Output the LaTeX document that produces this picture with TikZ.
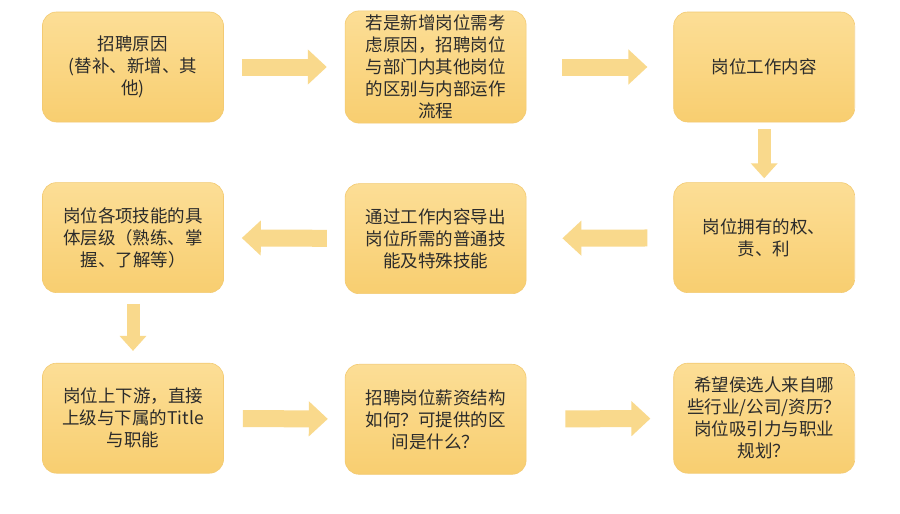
\documentclass[tikz,border=0pt]{standalone}
\usepackage{fontspec}
\setmainfont{Noto Sans CJK SC}
\usepackage{xcolor}
\usetikzlibrary{arrows.meta, positioning}
\definecolor{boxtop}{HTML}{FCDE96}
\definecolor{boxbot}{HTML}{F8CE70}
\definecolor{boxline}{HTML}{F3CA72}
\definecolor{arrowfill}{HTML}{F9D98C}
\definecolor{ink}{HTML}{2B2B2B}
\tikzset{
  stage/.style={draw=boxline, line width=0.6pt, rounded corners=14pt, top color=boxtop, bottom color=boxbot, align=center, minimum width=181pt, minimum height=110pt, inner sep=4pt, text=ink},
  flow/.style={arrowfill, line width=17pt, -{Triangle[length=19pt, width=34pt]}},
  drop/.style={arrowfill, line width=13pt, -{Triangle[length=15pt, width=26pt]}},
  every node/.style={font=\fontsize{17.5}{22}\selectfont}
}
\begin{document}
\begin{tikzpicture}
    \fill[white] (0,0) rectangle (900pt,-514pt);
    \useasboundingbox (0,0) rectangle (900pt,-514pt);
    \node[stage] (recruit) at (133pt,-67pt) {招聘原因\\(替补、新增、其\\他)};
    \node[stage, right=121pt of recruit] (compare) {若是新增岗位需考\\虑原因，招聘岗位\\与部门内其他岗位\\的区别与内部运作\\流程};
    \node[stage, right=147pt of compare] (content) {岗位工作内容};
    \node[stage, below=60pt of content] (rights) {岗位拥有的权、\\责、利};
    \node[stage, below=60pt of compare] (skills) {通过工作内容导出\\岗位所需的普通技\\能及特殊技能};
    \node[stage, below=60pt of recruit] (levels) {岗位各项技能的具\\体层级（熟练、掌\\握、了解等）};
    \node[stage, below=70pt of levels] (chain) {岗位上下游，直接\\上级与下属的Title\\与职能};
    \node[stage, below=70pt of skills] (salary) {招聘岗位薪资结构\\如何？可提供的区\\间是什么？};
    \node[stage, below=70pt of rights] (source) {希望侯选人来自哪\\些行业/公司/资历？\\岗位吸引力与职业\\规划？};

    \draw[flow, shorten <=18pt, shorten >=18pt] (recruit) -- (compare);
    \draw[flow, shorten <=36pt, shorten >=26pt] (compare) -- (content);
    \draw[drop, shorten <=7pt, shorten >=4pt] (content) -- (rights);
    \draw[flow, shorten <=26pt, shorten >=36pt] (rights) -- (skills);
    \draw[flow, shorten <=18pt, shorten >=18pt] (skills) -- (levels);
    \draw[drop, shorten <=11pt, shorten >=12pt] (levels) -- (chain);
    \draw[flow, shorten <=19pt, shorten >=17pt] (chain) -- (salary);
    \draw[flow, shorten <=39pt, shorten >=23pt] (salary) -- (source);
\end{tikzpicture}
\end{document}
